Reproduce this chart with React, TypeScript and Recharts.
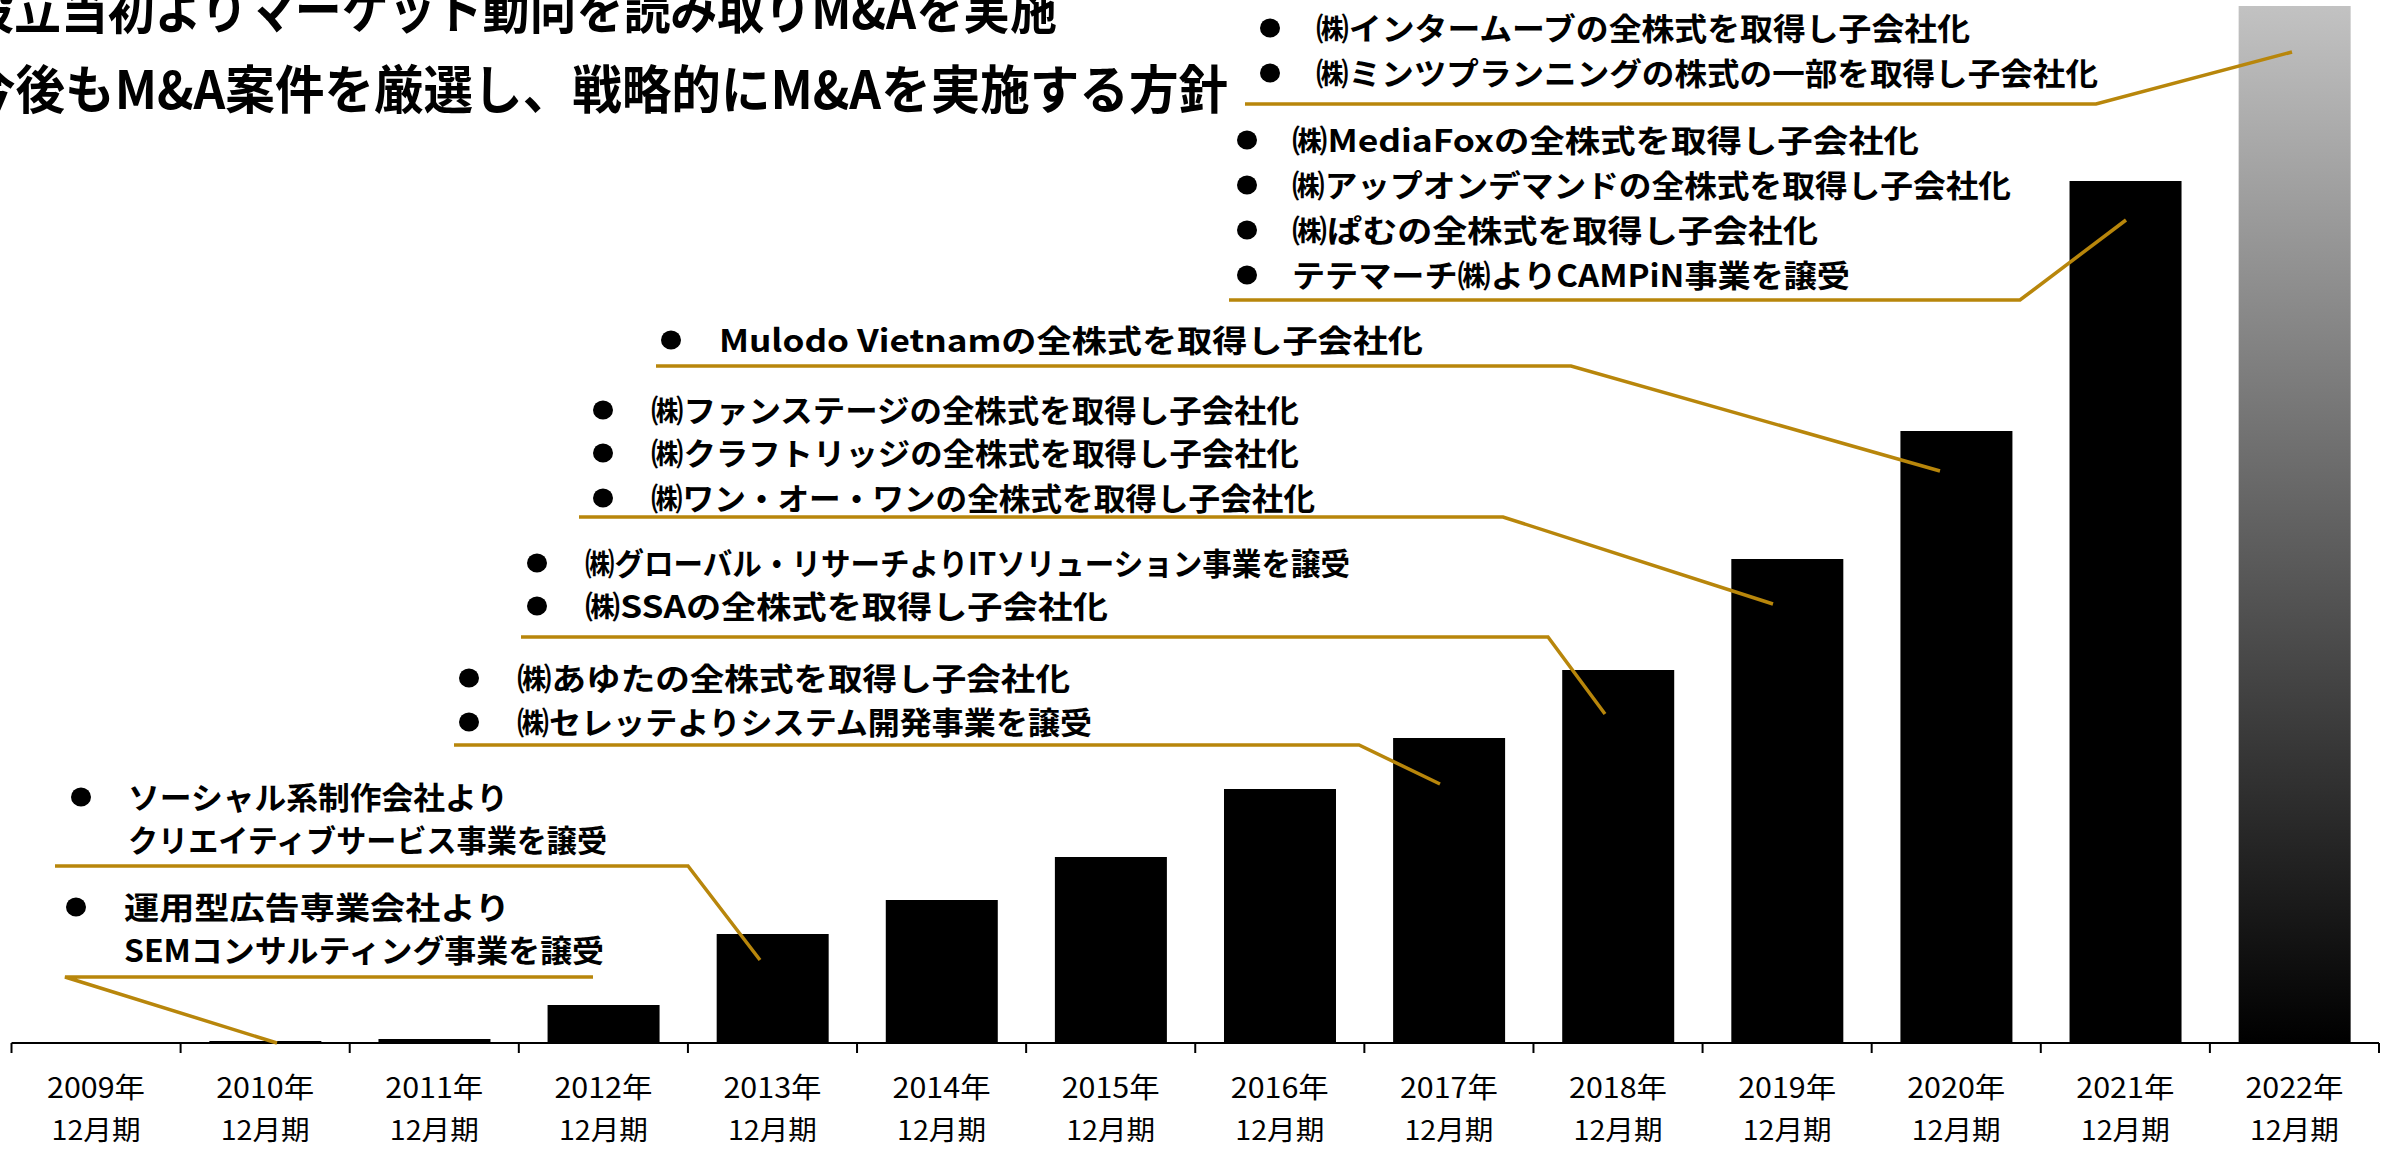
import React from 'react';
import { BarChart, Bar, XAxis, YAxis, Cell } from 'recharts';

// ---------- data ----------
const YEARS = ['2009年', '2010年', '2011年', '2012年', '2013年', '2014年', '2015年', '2016年', '2017年', '2018年', '2019年', '2020年', '2021年', '2022年'];
const PERIODS = ['12月期', '12月期', '12月期', '12月期', '12月期', '12月期', '12月期', '12月期', '12月期', '12月期', '12月期', '12月期', '12月期', '12月期'];
const VALUES = [0, 2, 4, 38, 109, 143, 186, 254, 305, 373, 484, 612, 862, 1037];

const TITLE_LINES = ['設立当初よりマーケット動向を読み取りM&Aを実施', '今後もM&A案件を厳選し、戦略的にM&Aを実施する方針'];

const NOTES_2010 = ['運用型広告専業会社より', 'SEMコンサルティング事業を譲受'];
const NOTES_2013 = ['ソーシャル系制作会社より', 'クリエイティブサービス事業を譲受'];
const NOTES_2017 = ['㈱あゆたの全株式を取得し子会社化', '㈱セレッテよりシステム開発事業を譲受'];
const NOTES_2018 = ['㈱グローバル・リサーチよりITソリューション事業を譲受', '㈱SSAの全株式を取得し子会社化'];
const NOTES_2019 = ['㈱ファンステージの全株式を取得し子会社化', '㈱クラフトリッジの全株式を取得し子会社化', '㈱ワン・オー・ワンの全株式を取得し子会社化'];
const NOTES_2020 = ['Mulodo Vietnamの全株式を取得し子会社化'];
const NOTES_2021 = ['㈱MediaFoxの全株式を取得し子会社化', '㈱アップオンデマンドの全株式を取得し子会社化', '㈱ぱむの全株式を取得し子会社化', 'テテマーチ㈱よりCAMPiN事業を譲受'];
const NOTES_2022 = ['㈱インタームーブの全株式を取得し子会社化', '㈱ミンツプランニングの株式の一部を取得し子会社化'];

const data = YEARS.map((year, i) => ({ year, period: PERIODS[i], value: VALUES[i] }));

// ---------- layout / style ----------
const W = 2387;
const H = 1149;
const M = { top: 6, right: 8, bottom: 0, left: 11.5 };
const AXIS_H = 106;
const FONT = "'Noto Sans CJK JP', 'Noto Sans', sans-serif";
const GOLD = '#B8860B';

type Group = {
  lines: string[];
  bullets: boolean[];
  bulletX: number;
  textX: number;
  rows: number[];
  ends: number[];
  under: [number, number, number];
  target: [number, number];
  from: 'left' | 'right';
};

const GROUPS: Group[] = [
  { lines: NOTES_2010, bullets: [true, false], bulletX: 76, textX: 124, rows: [907, 950], ends: [510, 604], under: [65, 593, 977], target: [277, 1043], from: 'left' },
  { lines: NOTES_2013, bullets: [true, false], bulletX: 81, textX: 128, rows: [797, 840], ends: [508, 607], under: [55, 688, 866], target: [760, 960], from: 'right' },
  { lines: NOTES_2017, bullets: [true, true], bulletX: 469, textX: 517, rows: [678, 722], ends: [1070, 1092], under: [454, 1359, 745], target: [1440, 784], from: 'right' },
  { lines: NOTES_2018, bullets: [true, true], bulletX: 537, textX: 585, rows: [563, 606], ends: [1350, 1108], under: [521, 1548, 637], target: [1605, 714], from: 'right' },
  { lines: NOTES_2019, bullets: [true, true, true], bulletX: 603, textX: 651, rows: [410, 453, 498], ends: [1299, 1299, 1315], under: [579, 1503, 517], target: [1773, 604], from: 'right' },
  { lines: NOTES_2020, bullets: [true], bulletX: 671, textX: 719, rows: [340], ends: [1423], under: [656, 1571, 366], target: [1940, 471], from: 'right' },
  { lines: NOTES_2021, bullets: [true, true, true, true], bulletX: 1247, textX: 1292, rows: [140, 185, 230, 275], ends: [1919, 2011, 1818, 1850], under: [1229, 2020, 300], target: [2126, 220], from: 'right' },
  { lines: NOTES_2022, bullets: [true, true], bulletX: 1270, textX: 1316, rows: [28, 73], ends: [1970, 2098], under: [1245, 2096, 104], target: [2292, 52], from: 'right' },
];

const NOTE_FS = 31;

function YearTick(props: any) {
  const { x, y, payload } = props;
  const i = props.index ?? payload?.index ?? YEARS.indexOf(payload?.value);
  const half = (W - M.left - M.right) / YEARS.length / 2;
  return (
    <g>
      <line x1={x - half} x2={x - half} y1={y} y2={y + 10} stroke="#000" strokeWidth={2} />
      {i === YEARS.length - 1 && <line x1={x + half} x2={x + half} y1={y} y2={y + 10} stroke="#000" strokeWidth={2} />}
      <text x={x} y={y + 55} textAnchor="middle" fontSize={28} fontFamily={FONT} fill="#000" textLength={98} lengthAdjust="spacingAndGlyphs">
        {payload.value}
      </text>
      <text x={x} y={y + 97} textAnchor="middle" fontSize={27} fontFamily={FONT} fill="#000" textLength={89} lengthAdjust="spacingAndGlyphs">
        {PERIODS[i]}
      </text>
    </g>
  );
}

function Annotations() {
  return (
    <svg width={W} height={H} style={{ position: 'absolute', left: 0, top: 0, pointerEvents: 'none' }}>
      <text x={-33} y={29} fontSize={52} fontWeight={700} fontFamily={FONT} fill="#000" textLength={1090} lengthAdjust="spacingAndGlyphs">
        {TITLE_LINES[0]}
      </text>
      <text x={-34} y={109} fontSize={52} fontWeight={700} fontFamily={FONT} fill="#000" textLength={1262} lengthAdjust="spacingAndGlyphs">
        {TITLE_LINES[1]}
      </text>
      {GROUPS.map((g, gi) => {
        const [x0, x1, uy] = g.under;
        const pts =
          g.from === 'right'
            ? `${x0},${uy} ${x1},${uy} ${g.target[0]},${g.target[1]}`
            : `${x1},${uy} ${x0},${uy} ${g.target[0]},${g.target[1]}`;
        return (
          <g key={gi}>
            {g.lines.map((ln, li) => (
              <g key={li}>
                {g.bullets[li] && <ellipse cx={g.bulletX} cy={g.rows[li]} rx={10} ry={9.5} fill="#000" />}
                <text
                  x={g.textX}
                  y={g.rows[li] + 12}
                  fontSize={NOTE_FS}
                  fontWeight={700}
                  fontFamily={FONT}
                  fill="#000"
                  textLength={g.ends[li] - g.textX}
                  lengthAdjust="spacingAndGlyphs"
                >
                  {ln}
                </text>
              </g>
            ))}
            <polyline points={pts} fill="none" stroke={GOLD} strokeWidth={3.5} strokeLinejoin="miter" />
          </g>
        );
      })}
    </svg>
  );
}

export default function App() {
  return (
    <div style={{ position: 'absolute', left: 0, top: 0, width: W, height: H, background: '#fff', overflow: 'hidden', fontFamily: FONT }}>
      <BarChart width={W} height={H} data={data} margin={M} barCategoryGap="17%">
        <defs>
          <linearGradient id="grad2022" x1="0" y1="0" x2="0" y2="1">
            <stop offset="0%" stopColor="#c2c2c2" />
            <stop offset="100%" stopColor="#000000" />
          </linearGradient>
        </defs>
        <XAxis
          dataKey="year"
          height={AXIS_H}
          interval={0}
          axisLine={{ stroke: '#000', strokeWidth: 2 }}
          tickLine={false}
          tickSize={0}
          tickMargin={0}
          tick={<YearTick />}
        />
        <YAxis hide domain={[0, 1037]} allowDataOverflow />
        <Bar dataKey="value" isAnimationActive={false}>
          {data.map((d, i) => (
            <Cell key={d.year} fill={i === data.length - 1 ? 'url(#grad2022)' : '#000'} />
          ))}
        </Bar>
      </BarChart>
      <Annotations />
    </div>
  );
}
